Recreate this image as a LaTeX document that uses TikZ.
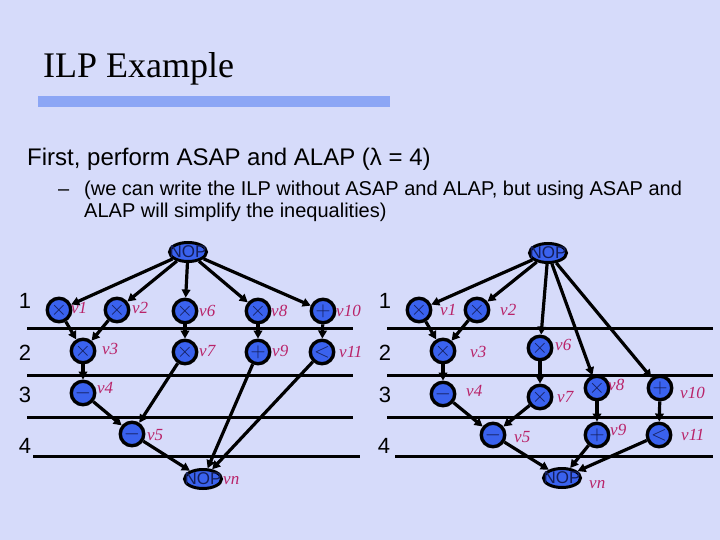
\documentclass[tikz,border=0pt]{standalone}
\usepackage{fontspec}
\setmainfont{Liberation Sans}
\newfontfamily\seriffont{Liberation Serif}
\usetikzlibrary{shapes.geometric,arrows.meta}
\definecolor{lav}{RGB}{214,219,250}
\definecolor{nodeblue}{RGB}{58,98,238}
\definecolor{barblue}{RGB}{140,166,245}
\definecolor{labcol}{RGB}{185,35,105}
\definecolor{symcol}{RGB}{20,30,90}
\begin{document}
\begin{tikzpicture}[x=1pt,y=-1pt,
 op/.style={circle,draw=black,line width=3.4pt,fill=nodeblue,minimum size=23.5pt,inner sep=0pt,font=\fontsize{22}{22}\selectfont,text=symcol},
 nop/.style={ellipse,draw=black,line width=3pt,fill=nodeblue,minimum width=37pt,minimum height=19pt,inner sep=0pt},
 noptext/.style={font=\fontsize{17}{17}\selectfont,text=symcol,inner sep=0pt},
 lab/.style={anchor=west,inner sep=0pt,font=\seriffont\itshape\fontsize{17}{17}\selectfont,text=labcol},
 row/.style={inner sep=0pt,font=\fontsize{22}{22}\selectfont},
 edge/.style={line width=3.2pt,-{Triangle[length=8pt,width=8.5pt]}},
 level/.style={line width=3pt}
]
\useasboundingbox (0,0) rectangle (720,540);
\shade[top color=lav,middle color=white,bottom color=lav] (0,0) rectangle (720,540);

% title and text
\node[anchor=base west,inner sep=0pt,font=\seriffont\fontsize{36}{36}\selectfont] (title) at (43,78) {ILP Example};
\fill[barblue] (38,96) rectangle (390,107);
\node[anchor=base west,inner sep=0pt,font=\fontsize{24}{24}\selectfont] (t1) at (27,166) {First, perform ASAP and ALAP (λ = 4)};
\node[anchor=base west,inner sep=0pt,font=\fontsize{20}{20}\selectfont] (dash) at (58,196) {–};
\node[anchor=base west,inner sep=0pt,font=\fontsize{20}{20}\selectfont] (t2) at (84,196) {(we can write the ILP without ASAP and ALAP, but using ASAP and};
\node[anchor=base west,inner sep=0pt,font=\fontsize{20}{20}\selectfont] (t3) at (84,218) {ALAP will simplify the inequalities)};

% ---------------- left graph ----------------
\node[row] (lr1) at (25,301) {1};
\node[row] (lr2) at (25,353) {2};
\node[row] (lr3) at (25,395) {3};
\node[row] (lr4) at (25,446) {4};
\draw[level] (27,328) coordinate (la1) -- (353,328) coordinate (la2);
\draw[level] (27,375) coordinate (lb1) -- (353,375) coordinate (lb2);
\draw[level] (27,417) coordinate (lc1) -- (353,417) coordinate (lc2);
\draw[level] (33,456) coordinate (ld1) -- (360,456) coordinate (ld2);

\node[nop] (L0) at (188,252) {};
\node[noptext] (L0t) at (L0) {NOP};
\node[op] (L1) at (59,310) {$\times$};
\node[op] (L2) at (117,310) {$\times$};
\node[op] (L6) at (185,311) {$\times$};
\node[op] (L8) at (258,311) {$\times$};
\node[op] (L10) at (323,311) {$+$};
\node[op] (L3) at (83,351) {$\times$};
\node[op] (L7) at (185,352) {$\times$};
\node[op] (L9) at (258,352) {$+$};
\node[op] (L11) at (322,352) {$<$};
\node[op] (L4) at (83,393) {$-$};
\node[op] (L5) at (132,434) {$-$};
\node[nop] (Ln) at (203,479) {};
\node[noptext] (Lnt) at (Ln) {NOP};

\node[lab] (lv1) at (71,308) {v1};
\node[lab] (lv2) at (132,308) {v2};
\node[lab] (lv6) at (199,311) {v6};
\node[lab] (lv8) at (271,311) {v8};
\node[lab] (lv10) at (336,311) {v10};
\node[lab] (lv3) at (102,349) {v3};
\node[lab] (lv7) at (199,351) {v7};
\node[lab] (lv9) at (272,351) {v9};
\node[lab] (lv11) at (339,352) {v11};
\node[lab] (lv4) at (97,388) {v4};
\node[lab] (lv5) at (147,435) {v5};
\node[lab] (lvn) at (223,481) {vn};

\draw[edge] (L0) -- (L1);
\draw[edge] (L0) -- (L2);
\draw[edge] (L0) -- (L6);
\draw[edge] (L0) -- (L8);
\draw[edge] (L0) -- (L10);
\draw[edge] (L1) -- (L3);
\draw[edge] (L2) -- (L3);
\draw[edge] (L6) -- (L7);
\draw[edge] (L8) -- (L9);
\draw[edge] (L10) -- (L11);
\draw[edge] (L3) -- (L4);
\draw[edge] (L4) -- (L5);
\draw[edge] (L7) -- (L5);
\draw[edge] (L5) -- (Ln);
\draw[edge] (L9) -- (Ln);
\draw[edge] (L11) -- (Ln);

% ---------------- right graph ----------------
\node[row] (rr1) at (385,301) {1};
\node[row] (rr2) at (385,353) {2};
\node[row] (rr3) at (385,395) {3};
\node[row] (rr4) at (384,446) {4};
\draw[level] (387,328) coordinate (ra1) -- (713,328) coordinate (ra2);
\draw[level] (387,375) coordinate (rb1) -- (713,375) coordinate (rb2);
\draw[level] (387,417) coordinate (rc1) -- (713,417) coordinate (rc2);
\draw[level] (395,456) coordinate (rd1) -- (713,456) coordinate (rd2);

\node[nop] (R0) at (548,253) {};
\node[noptext] (R0t) at (R0) {NOP};
\node[op] (R1) at (419,310) {$\times$};
\node[op] (R2) at (477,310) {$\times$};
\node[op] (R3) at (443,351) {$\times$};
\node[op] (R6) at (540,348) {$\times$};
\node[op] (R4) at (443,394) {$-$};
\node[op] (R7) at (540,397) {$\times$};
\node[op] (R8) at (597,388) {$\times$};
\node[op] (R10) at (660,388) {$+$};
\node[op] (R5) at (493,435) {$-$};
\node[op] (R9) at (597,435) {$+$};
\node[op] (R11) at (659,435) {$<$};
\node[nop] (Rn) at (562,478) {};
\node[noptext] (Rnt) at (Rn) {NOP};

\node[lab] (rv1) at (440,310) {v1};
\node[lab] (rv2) at (500,310) {v2};
\node[lab] (rv3) at (470,352) {v3};
\node[lab] (rv6) at (555,345) {v6};
\node[lab] (rv4) at (466,391) {v4};
\node[lab] (rv7) at (557,397) {v7};
\node[lab] (rv8) at (608,385) {v8};
\node[lab] (rv10) at (680,393) {v10};
\node[lab] (rv5) at (514,437) {v5};
\node[lab] (rv9) at (610,430) {v9};
\node[lab] (rv11) at (681,435) {v11};
\node[lab] (rvn) at (589,485) {vn};

\draw[edge] (R0) -- (R1);
\draw[edge] (R0) -- (R2);
\draw[edge] (R0) -- (R6);
\draw[edge] (R0) -- (R8);
\draw[edge] (R0) -- (R10);
\draw[edge] (R1) -- (R3);
\draw[edge] (R2) -- (R3);
\draw[edge] (R3) -- (R4);
\draw[edge] (R6) -- (R7);
\draw[edge] (R4) -- (R5);
\draw[edge] (R7) -- (R5);
\draw[edge] (R8) -- (R9);
\draw[edge] (R10) -- (R11);
\draw[edge] (R5) -- (Rn);
\draw[edge] (R9) -- (Rn);
\draw[edge] (R11) -- (Rn);
\end{tikzpicture}
\end{document}
